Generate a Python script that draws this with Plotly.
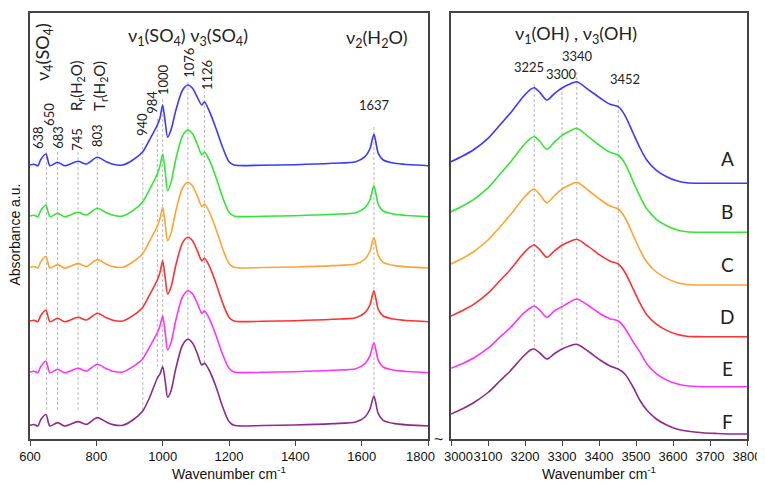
import plotly.graph_objects as go

# ---------------- data ----------------
series_names = ["A", "B", "C", "D", "E", "F"]
series_colors = ["#3a3aff", "#33e633", "#ffa333", "#ff3030", "#ff33ff", "#8e2a8e"]

# stacking offsets (display offsets of the stacked spectra)
offset_left = [273.3, 222.3, 171.0, 117.3, 66.3, 13.0]
offset_right = [255.7, 206.7, 154.0, 102.3, 52.3, 5.0]

# left panel: 600-1800 cm-1
wn_left = [600, 612, 624, 632, 648, 660, 683, 705, 745, 770, 803, 830, 850, 880, 910,
           940, 960, 984, 992, 1000, 1008, 1015, 1025, 1040, 1060, 1076, 1090, 1105,
           1118, 1126, 1140, 1160, 1180, 1200, 1215, 1300, 1400, 1513, 1582, 1610,
           1625, 1637, 1650, 1665, 1700, 1800]

abs_left_A = [0.7, 1.5, 0, 6, 11.7, 0, 3.4, 0, 4.4, 1.7, 8.4, 4, 1.4, 0.7, 5.7, 14, 25.7,
              40.7, 48, 60.7, 42.7, 28.4, 35.7, 55.7, 75.7, 80.7, 77.4, 68, 60.7, 64, 55,
              38, 19, 4, 0.7, 0.5, 1, 2.4, 4, 9, 17, 31.4, 12.4, 5.7, 2.4, 0]
abs_left_B = [0.7, 1.5, 0, 6, 11.5, 0, 3.4, 0, 4.4, 1.7, 8.4, 4, 1.4, 0.7, 6, 15, 27, 43,
              51, 62.7, 44, 26, 34, 58, 81, 86.7, 83, 72, 62, 64.4, 57, 40, 20, 4.5, 0.7,
              0.5, 1, 2.4, 4, 9, 17, 31, 12.4, 5.7, 2.4, 0]
abs_left_C = [0.7, 1.5, 0, 6, 11.5, 0, 3.4, 0, 4.4, 1.7, 8.4, 4, 1.4, 0.7, 6, 14.5, 26.5,
              42, 49.5, 60.7, 43, 27.3, 34.5, 57.5, 80, 85.7, 82, 71.5, 61.5, 64, 56.5,
              39.5, 20, 4.5, 0.7, 0.5, 1, 2.4, 4, 9, 17, 30.5, 12.4, 5.7, 2.4, 0]
abs_left_D = [0.7, 1.5, 0, 6, 11.5, 0, 3.4, 0, 4.4, 1.7, 8.4, 4, 1.4, 0.7, 6, 14.5, 26.5,
              42, 49.5, 61, 43, 27.7, 34.5, 57, 79, 84.4, 81, 70.5, 61, 63.4, 56, 39,
              19.5, 4.5, 0.7, 0.5, 1, 2.4, 4, 9, 17, 31, 12.4, 5.7, 2.4, 0]
abs_left_E = [0.7, 1.5, 0, 6, 11.5, 0, 3.4, 0, 4.4, 1.7, 8.4, 4, 1.4, 0.7, 6, 14, 25.5,
              40, 47, 56.7, 39, 22.7, 30, 53, 76, 82, 79, 69, 59.5, 61.7, 54.5, 38, 19,
              4.5, 0.7, 0.5, 1, 2.4, 4, 9, 17, 30, 12.4, 5.7, 2.4, 0]
abs_left_F = [0.7, 1.5, 0, 6, 11.5, 0, 3.4, 0, 4.4, 1.7, 8.4, 4, 1.4, 0.7, 6, 15, 28, 48,
              52, 59.3, 44, 28.7, 35, 58, 81, 86.7, 83, 72, 61, 62.7, 56, 40, 20, 4.5,
              0.7, 0.5, 1, 2.4, 4, 9, 17, 30, 12.4, 5.7, 2.4, 0]

# right panel: 3000-3800 cm-1
wn_right = [3000, 3030, 3060, 3100, 3132, 3160, 3195, 3215, 3225, 3240, 3259, 3280, 3300,
            3320, 3340, 3370, 3403, 3430, 3452, 3470, 3492, 3510, 3529, 3555, 3583, 3610,
            3637, 3680, 3720, 3760, 3800]

abs_right_A = [21.6, 27, 33.3, 45, 58.3, 70, 86.6, 94, 95.6, 91, 83.3, 90, 95.3, 99, 101.6,
               94, 85.3, 79, 76.6, 68, 50.3, 36, 23.3, 13, 6.6, 2.5, 0.5, 0, 0, 0, 0]
abs_right_B = [20.6, 26, 32.5, 44.5, 58, 70, 86.5, 94, 95.6, 91, 83, 90.5, 97, 101, 104,
               96, 86.5, 80, 77.3, 69, 51, 36.5, 23.5, 13, 6.6, 2.5, 0.5, 0, 0, 0, 0]
abs_right_C = [21, 26.5, 33, 45, 58, 70, 86.5, 94, 96, 90.5, 82.3, 89.5, 96, 100, 102.7,
               95, 85.5, 79, 76, 67.5, 50, 35.5, 23, 13, 6.6, 2.5, 0.5, 0, 0, 0, 0]
abs_right_D = [20.7, 26, 32, 43.5, 56, 67, 83, 90, 91.7, 87, 79.4, 86, 91.5, 95, 97.4,
               90.5, 81.5, 75.5, 72.7, 64.5, 48, 34, 22, 12.5, 6.3, 2.4, 0.5, 0, 0, 0, 0]
abs_right_E = [18.4, 23, 28.5, 38.5, 49.5, 59, 73, 79, 80.7, 76.5, 69.4, 76, 80, 84.5, 87.7,
               81.5, 73, 68, 65.7, 58.5, 45, 35, 23, 13, 6.6, 3, 1, 0, 0, 0, 0]
abs_right_F = [20, 25, 31, 41.5, 53, 63, 77.5, 84, 85, 81, 75, 80.5, 85, 88, 89.7, 83, 74,
               68, 65, 60, 47, 34, 24, 15, 9, 5, 3, 1.2, 0.5, 0, 0]

left_values = [abs_left_A, abs_left_B, abs_left_C, abs_left_D, abs_left_E, abs_left_F]
right_values = [abs_right_A, abs_right_B, abs_right_C, abs_right_D, abs_right_E, abs_right_F]

left_ticks = [600, 800, 1000, 1200, 1400, 1600, 1800]
left_ticktext = ["600", "800", "1000", "1200", "1400", "1600", ""]
right_ticks = [3000, 3100, 3200, 3300, 3400, 3500, 3600, 3700, 3800]
right_ticktext = ["", "3100", "3200", "3300", "3400", "3500", "3600", "3700", "3800"]

# peak positions (marked with dashed lines / labels)
peaks_left = [650, 683, 745, 803, 940, 984, 1000, 1076, 1126, 1637]
peaks_right = [3225, 3300, 3340, 3452]

# ---------------- figure ----------------
fig = go.Figure()

# dashed guide lines (extents, in plot units)
dash_left_ext = [(29, 290), (29, 289), (29, 289), (29, 289), (29, 296), (72, 322),
                 (72, 342), (99, 359), (76, 347), (44, 312)]
dash_right_ext = [(92, 356), (94, 352), (99, 367), (76, 341)]
for p, (y0, y1) in zip(peaks_left, dash_left_ext):
    fig.add_shape(type="line", xref="x", yref="y", x0=p, x1=p, y0=y0, y1=y1,
                  line=dict(color="#b8b8b8", width=1, dash="3px,2px"), layer="below")
for p, (y0, y1) in zip(peaks_right, dash_right_ext):
    fig.add_shape(type="line", xref="x2", yref="y2", x0=p, x1=p, y0=y0, y1=y1,
                  line=dict(color="#b8b8b8", width=1, dash="3px,2px"), layer="below")

for name, col, off, vals in zip(series_names, series_colors, offset_left, left_values):
    fig.add_trace(go.Scatter(x=wn_left, y=[v + off for v in vals], mode="lines",
                             line=dict(color=col, width=1.6, shape="spline", smoothing=0.8),
                             xaxis="x", yaxis="y", showlegend=False, name=name))
for name, col, off, vals in zip(series_names, series_colors, offset_right, right_values):
    fig.add_trace(go.Scatter(x=wn_right, y=[v + off for v in vals], mode="lines",
                             line=dict(color=col, width=1.6, shape="spline", smoothing=0.8),
                             xaxis="x2", yaxis="y2", showlegend=False, name=name))

axis_col = "#444444"
txt_col = "#111111"
tick_font = dict(family="Liberation Sans, Arial", size=13, color=txt_col)
common_x = dict(showline=True, linecolor=axis_col, linewidth=1.5, mirror=True,
                ticks="outside", ticklen=5, tickcolor=axis_col, tickwidth=1.2,
                showgrid=False, zeroline=False, tickfont=tick_font, automargin=False,
                title=dict(text="Wavenumber cm<sup>-1</sup>",
                           font=dict(family="Liberation Sans, Arial", size=14, color=txt_col),
                           standoff=2))
common_y = dict(showline=True, linecolor=axis_col, linewidth=1.5, mirror=True,
                showticklabels=False, ticks="", showgrid=False, zeroline=False,
                range=[0, 426], fixedrange=True, automargin=False)

# the page body has an 8px default margin; margins compensate for it
fig.update_layout(
    width=765, height=485,
    margin=dict(l=22, r=26, t=5, b=54, autoexpand=False),
    paper_bgcolor="white", plot_bgcolor="white",
    xaxis=dict(domain=[0, 0.5551], range=[600, 1800], tickvals=left_ticks,
               ticktext=left_ticktext, **common_x),
    xaxis2=dict(domain=[0.5872, 1], range=[3000, 3800], tickvals=right_ticks,
                ticktext=right_ticktext, anchor="y2", **common_x),
    yaxis=dict(**common_y),
    yaxis2=dict(**common_y, anchor="x2"),
)

# end tick labels nudged apart around the axis break
fig.add_annotation(x=1777, y=0, xref="x", yref="paper", text="1800", showarrow=False,
                   xanchor="center", yanchor="middle", yshift=-17, font=tick_font)
fig.add_annotation(x=3019, y=0, xref="x2", yref="paper", text="3000", showarrow=False,
                   xanchor="center", yanchor="middle", yshift=-17, font=tick_font)

# y-axis title
fig.add_annotation(x=-15 / 717, y=0.48, xref="paper", yref="paper", text="Absorbance a.u.",
                   showarrow=False, textangle=-90, xanchor="center", yanchor="middle",
                   font=dict(family="Liberation Sans, Arial", size=14, color=txt_col))

lab_font = dict(family="Lato, Open Sans", size=13, color="#222222")

left_labels = [("638", 624, 302, -90), ("650", 657, 325, -90), ("683", 684, 302, -90),
               ("745", 741, 300, -90), ("803", 802, 303, -90), ("940", 938, 314, -90),
               ("984", 967, 337, -90), ("1000", 1001, 359, -90), ("1076", 1079, 376, -90),
               ("1126", 1134, 364, -90), ("1637", 1640, 334, 0)]
for txt, x, y, ang in left_labels:
    fig.add_annotation(x=x, y=y, xref="x", yref="y", text=txt, showarrow=False,
                       textangle=ang, font=lab_font)

right_labels = [("3225", 3212, 372), ("3300", 3299, 365), ("3340", 3343, 383), ("3452", 3470, 360)]
for txt, x, y in right_labels:
    fig.add_annotation(x=x, y=y, xref="x2", yref="y2", text=txt, showarrow=False, font=lab_font)

group_labels = [("ν<sub>4</sub>(SO<sub>4</sub>)", 639, 387, -90, "x", "y", 18),
                ("R<sub>r</sub>(H<sub>2</sub>O)", 742, 353, -90, "x", "y", 15),
                ("T<sub>r</sub>(H<sub>2</sub>O)", 811, 353, -90, "x", "y", 15),
                ("ν<sub>1</sub>(SO<sub>4</sub>) ν<sub>3</sub>(SO<sub>4</sub>)", 1075, 403, 0, "x", "y", 18),
                ("ν<sub>2</sub>(H<sub>2</sub>O)", 1647, 401, 0, "x", "y", 18),
                ("ν<sub>1</sub>(OH) , ν<sub>3</sub>(OH)", 3337, 405, 0, "x2", "y2", 18)]
for txt, x, y, ang, xr, yr, fs in group_labels:
    fig.add_annotation(x=x, y=y, xref=xr, yref=yr, text=txt, showarrow=False,
                       textangle=ang, font=dict(family="Lato, Open Sans", size=fs, color="#222222"))

letter_y = [281, 228, 175, 123, 71, 18]
for name, y in zip(series_names, letter_y):
    fig.add_annotation(x=3747, y=y, xref="x2", yref="y2", text=name, showarrow=False,
                       font=dict(family="Lato, Open Sans", size=19, color="#222222"))

fig.add_annotation(x=(438 - 30) / 717, y=0.0, xref="paper", yref="paper", text="~",
                   showarrow=False, xanchor="center", yanchor="middle",
                   font=dict(family="Liberation Sans, Arial", size=16, color="#222222"))

fig.write_html("out.html")
